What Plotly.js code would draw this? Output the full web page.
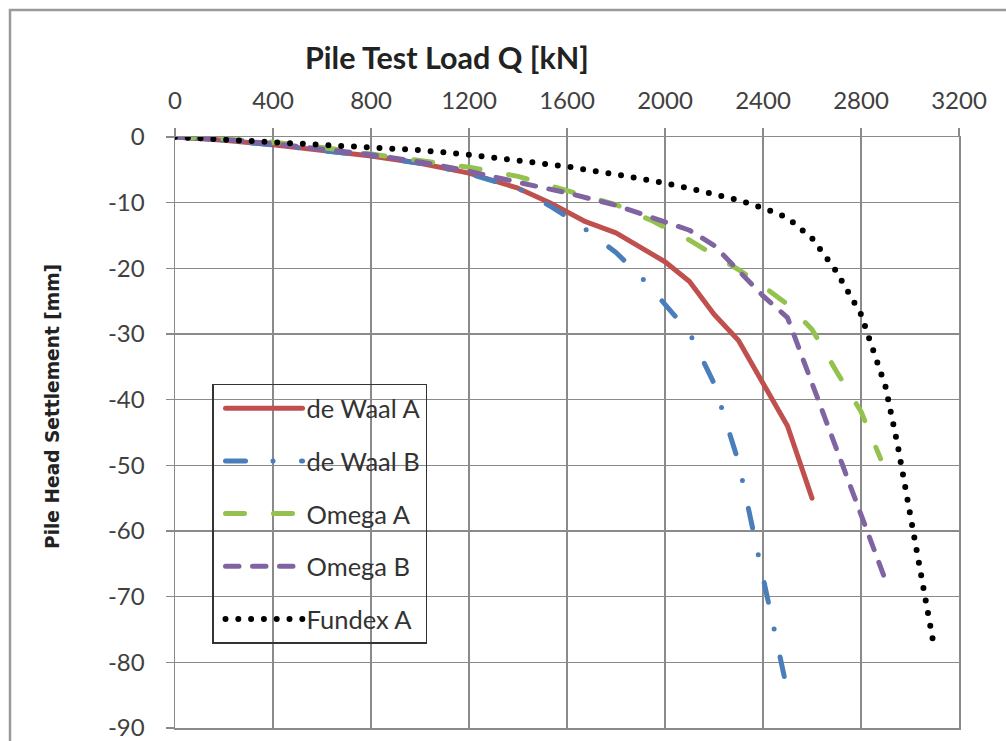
<!DOCTYPE html>
<html>
<head>
<meta charset="utf-8">
<script src="https://cdn.plot.ly/plotly-3.0.1.min.js"></script>
<style>
  html, body { margin: 0; padding: 0; background: #fff; }
  #chart { width: 1006px; height: 741px; }
  .js-line { stroke-linecap: round; stroke-linejoin: round; }
</style>
</head>
<body>
<div id="chart"></div>
<script>
// ---- Data ----
const seriesNames = ["de Waal A", "de Waal B", "Omega A", "Omega B", "Fundex A"];

const loadDeWaalA = [0, 200, 400, 600, 800, 1000, 1200, 1400, 1530, 1670, 1800, 2000, 2100, 2200, 2300, 2400, 2500, 2600];
const settleDeWaalA = [0, -0.5, -1.2, -2.0, -2.9, -4.0, -5.5, -7.8, -10, -12.8, -14.6, -19, -22, -27, -31, -37.5, -44, -55];

const loadDeWaalB = [0, 200, 400, 600, 800, 1000, 1200, 1400, 1530, 1650, 1800, 1900, 2000, 2100, 2200, 2300, 2400, 2450, 2500];
const settleDeWaalB = [0, -0.5, -1.2, -2.0, -2.9, -4.0, -5.6, -7.8, -10.5, -13.3, -17.6, -21.2, -25.4, -29.8, -37.5, -49.5, -67, -75.5, -84.5];

const loadOmegaA = [0, 200, 400, 600, 800, 1000, 1200, 1400, 1600, 1800, 1950, 2100, 2300, 2400, 2500, 2600, 2700, 2800, 2880];
const settleOmegaA = [0, -0.3, -0.8, -1.6, -2.6, -3.6, -4.6, -6.0, -8.2, -10.3, -12.8, -15.7, -20.2, -22.7, -25.5, -29.3, -35.7, -41.8, -49];

const loadOmegaB = [0, 200, 400, 600, 800, 1000, 1200, 1400, 1600, 1800, 2000, 2100, 2200, 2300, 2400, 2500, 2550, 2600, 2700, 2800, 2900];
const settleOmegaB = [0, -0.4, -1.0, -1.8, -2.7, -3.8, -5.2, -6.9, -8.5, -10.4, -13.0, -14.2, -16.5, -20.4, -24.2, -27.5, -32.5, -37.5, -48, -58, -67.5];

const loadFundexA = [0, 200, 400, 600, 800, 1000, 1200, 1400, 1600, 1800, 2000, 2200, 2300, 2400, 2500, 2600, 2700, 2800, 2850, 2900, 2950, 3000, 3050, 3100];
const settleFundexA = [0, -0.4, -0.8, -1.2, -1.5, -2.0, -2.7, -3.5, -4.5, -5.7, -7.0, -8.7, -9.6, -10.8, -12.3, -15.4, -20.5, -27, -32.5, -38, -47, -57, -67, -78];

const xTickVals = [0, 400, 800, 1200, 1600, 2000, 2400, 2800, 3200];
const yTickVals = [0, -10, -20, -30, -40, -50, -60, -70, -80, -90];
const yTickText = ["0", "-10", "-20", "-30", "-40", "-50", "-60", "-70", "-80", "-90"];

const titleText = "Pile Test Load Q [kN]";
const yTitleText = "Pile Head Settlement [mm]";

// ---- Traces ----
function mk(name, x, y, color, width, dash, group) {
  return {
    type: "scatter", mode: "lines", name: name, x: x, y: y,
    legendgroup: group,
    line: { color: color, width: width, dash: dash },
    hoverinfo: "skip"
  };
}
const traces = [
  mk(seriesNames[0], loadDeWaalA, settleDeWaalA, "#C0504D", 5, "solid", "g1"),
  mk(seriesNames[1], loadDeWaalB, settleDeWaalB, "#4A7EBB", 5, "20px,27.5px,0px,28.5px", "g2"),
  mk(seriesNames[2], loadOmegaA, settleOmegaA, "#94C24F", 5, "19px,29px", "g3"),
  mk(seriesNames[3], loadOmegaB, settleOmegaB, "#8064A2", 5, "13.5px,13.5px", "g4"),
  mk(seriesNames[4], loadFundexA, settleFundexA, "#000000", 6, "0px,12.8px", "g5")
];

const gridCol = "#8a8a8a";
const tickFont = { family: "Lato, 'Open Sans', sans-serif", size: 24, color: "#404040" };

const layout = {
  width: 1006, height: 741,
  paper_bgcolor: "#ffffff", plot_bgcolor: "#ffffff",
  margin: { l: 175, r: 47, t: 137, b: 13, pad: 0 },
  showlegend: true,
  xaxis: {
    side: "top", range: [0, 3200], tickvals: xTickVals,
    showgrid: true, gridcolor: gridCol, gridwidth: 1.3,
    showline: true, mirror: true, linecolor: gridCol, linewidth: 1.5,
    ticks: "outside", ticklen: 8, tickcolor: gridCol, tickwidth: 1.3,
    tickfont: tickFont, zeroline: false, ticklabelstandoff: 9,
    ticklabeloverflow: "allow", fixedrange: true
  },
  yaxis: {
    range: [-90, 0], tickvals: yTickVals, ticktext: yTickText,
    showgrid: true, gridcolor: gridCol, gridwidth: 1.3,
    showline: true, mirror: true, linecolor: gridCol, linewidth: 1.5,
    ticks: "outside", ticklen: 8, tickcolor: gridCol, tickwidth: 1.3,
    tickfont: tickFont, zeroline: false, ticklabelstandoff: 16, ticklabelshift: 1.5,
    ticklabeloverflow: "allow", fixedrange: true
  },
  legend: {
    x: 0.0472, y: 0.5825, xanchor: "left", yanchor: "top",
    bgcolor: "rgba(0,0,0,0)", bordercolor: "#333333", borderwidth: 1.5,
    font: { family: "Lato, 'Open Sans', sans-serif", size: 25.5, color: "#333333" },
    traceorder: "grouped", tracegroupgap: 16.5, itemwidth: 83
  },
  annotations: [
    { text: titleText, xref: "paper", yref: "paper",
      x: (447 - 175) / 784, y: (728 - 57) / 591, xanchor: "center", yanchor: "middle",
      showarrow: false,
      font: { family: "Lato, 'Open Sans', sans-serif", size: 30.5, color: "#222222", weight: "bold" } },
    { text: yTitleText, xref: "paper", yref: "paper",
      x: (52 - 175) / 784, y: (728 - 407) / 591, xanchor: "center", yanchor: "middle",
      textangle: -90, showarrow: false,
      font: { family: "'DejaVu Sans', sans-serif", size: 18.6, color: "#222222", weight: "bold" } }
  ],
  shapes: [
    { type: "rect", xref: "paper", yref: "paper",
      x0: (10 - 175) / 784, x1: 1.2, y0: -0.2, y1: (728 - 10) / 591,
      line: { color: "#9a9a9a", width: 2.5 }, fillcolor: "rgba(0,0,0,0)", layer: "below" }
  ]
};

Plotly.newPlot("chart", traces, layout, { displayModeBar: false, staticPlot: true }).then(function () {
  document.querySelectorAll(".legend .legendlines path").forEach(function (p) {
    p.setAttribute("d", "M12,0h77");
  });
});
</script>
</body>
</html>
